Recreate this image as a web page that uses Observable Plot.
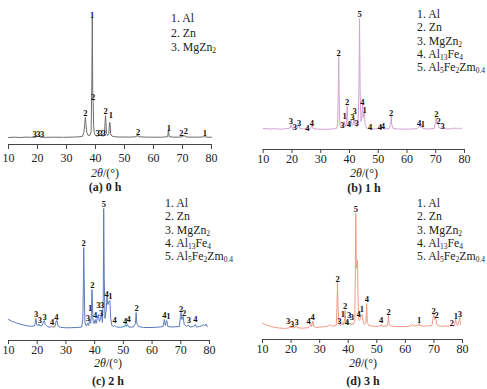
<!DOCTYPE html>
<html><head><meta charset="utf-8">
<script src="https://cdn.jsdelivr.net/npm/d3@7"></script>
<script src="https://cdn.jsdelivr.net/npm/@observablehq/plot@0.6"></script>
<style>
body{margin:0;background:#fff;}
#root{position:relative;width:487px;height:389px;overflow:hidden;font-family:"Liberation Serif","DejaVu Serif",serif;color:#222;}
.panel{position:absolute;}
.leg{position:absolute;font-size:11.8px;white-space:nowrap;}
.leg div{height:13.3px;line-height:13.3px;}
.leg sub{font-size:7.5px;vertical-align:-2px;line-height:0;}
.cap{position:absolute;transform:translateX(-50%);font-size:12px;line-height:14px;white-space:nowrap;}
.cap.b{font-weight:bold;}
</style></head>
<body><div id="root"></div>
<script>
const xTicks = [10,20,30,40,50,60,70,80];
const xTitle = "<i>2θ</i>/(°)";

// (a) 0 h
const aTheta = [10,12,14,16,18,19.5,19.8,20.1,20.5,20.9,23,26,29,32,34,35.5,36.0,36.3,36.5,36.7,37.0,37.5,38.0,38.5,38.75,38.9,39.05,39.2,39.35,39.6,40.0,40.5,41.0,41.3,41.6,41.9,42.3,42.8,43.1,43.3,43.45,43.6,43.8,44.2,44.6,44.85,45.0,45.2,45.6,46.5,48,52,54.2,54.5,54.8,57,60,63,64.9,65.15,65.4,67,69.8,70.15,70.5,70.8,71.2,74,77.3,77.6,77.9,80];
const aInt = [0,0.3,0,0.4,0.2,0.3,2,0.5,1.8,0.3,0.2,0.3,0.2,0.4,0.6,1.2,5,14,20,14,5,2,2,6,60,120,45,36,12,4,2,1.5,1.5,3,1.5,2.5,1.5,1.5,4,15,22,15,4,2,4,15,15,4,1.5,0.8,0.5,0.4,0.8,3.5,0.8,0.4,0.3,0.3,0.8,8,0.8,0.3,0.5,2.5,1,2,0.5,0.3,0.5,2,0.5,0.2];
const aLblTheta = [19.0,20.3,21.6,36.55,38.86,39.2,40.7,41.8,42.9,43.45,45.3,54.7,65.3,69.6,71.2,77.7];
const aLblInt = [3,3,3,24,122,40,4,4,4,26,22,5,9,4,6,4];
const aLblText = ["3","3","3","2","1","2","3","3","3","2","1","2","1","2","2","1"];
const aLegend = ["1. Al","2. Zn","3. MgZn<sub>2</sub>"];

// (b) 1 h
const bTheta = [10,12,14,16,18,19.4,19.7,20.0,20.4,20.8,21.2,21.8,22.3,22.7,24,25.2,25.5,25.8,26.5,26.9,27.3,29,32,34,35.5,35.9,36.1,36.25,36.4,36.6,37.2,37.6,38.0,38.3,38.6,38.9,39.1,39.2,39.35,39.6,39.9,40.3,40.6,40.9,41.3,41.6,41.9,42.2,42.5,43.0,43.3,43.5,43.7,44.0,44.3,44.55,44.8,45.0,45.2,45.4,45.8,46.5,47.2,47.8,49,50.7,51.1,51.5,52,53.8,54.3,54.5,54.7,55.2,57,60,62,63.5,64.2,64.5,64.8,65.2,65.6,67,69.5,69.9,70.15,70.4,70.8,71.1,71.8,72.3,72.8,74,75.5,76.5,77.2,78,78.6,79];
const bInt = [1,0.5,0.8,0.3,0.8,1.5,5,1.5,1,3,1,1.2,5,1.2,0.5,0.8,2,0.6,1,5,1,0.3,0.2,0.5,1,6,40,73,40,5,1.5,3.5,2,8,3,5,18,24,12,6,3,6,10,4,5,12,5,6,3,5,40,111,40,8,12,25,12,17,18,6,2,1,2,0.5,0.5,2,1,2.5,0.6,0.8,5,14,5,1,0.5,0.3,0.6,0.8,3,5,2,4,1,0.5,1,8,12,6,7,2,1,2.5,1,0.5,0.8,1.5,0.8,1.5,0.6,1.2];
const bLblTheta = [19.6,21.0,22.5,25.4,26.9,36.2,37.5,38.3,39.2,39.8,41.0,41.8,42.5,43.5,44.5,45.3,47.2,50.6,51.6,54.5,64.2,65.5,70.2,71.0,72.4];
const bLblInt = [8,2.3,6.3,1.7,6.3,76.7,4.7,13,27.3,5.3,12,18.5,6,115.7,27.3,19,2.3,2.3,3,16.7,6.7,5,15.7,8.7,3.3];
const bLblText = ["3","3","3","4","4","2","3","1","2","4","3","3","3","5","4","1","4","4","4","2","4","1","2","2","3"];
const fullLegend = ["1. Al","2. Zn","3. MgZn<sub>2</sub>","4. Al<sub>13</sub>Fe<sub>4</sub>","5. Al<sub>5</sub>Fe<sub>2</sub>Zm<sub>0.4</sub>"];

// (c) 2 h
const cTheta = [10,11,12,13,14,15,16,17,18,19,19.3,19.55,19.8,20.2,20.6,21.0,21.7,22.2,22.5,22.8,23.5,24.5,25.0,25.4,26.2,26.6,26.9,27.2,28,30,32,34,35.5,35.9,36.1,36.2,36.35,36.6,37.1,37.5,37.9,38.3,38.6,38.9,39.05,39.2,39.4,39.8,40.2,40.5,40.9,41.3,41.6,42.0,42.4,42.7,43.0,43.15,43.35,43.6,44.0,44.3,44.6,45.0,45.3,45.6,46.0,46.6,47.0,47.5,49,50.4,50.7,51.0,51.4,51.8,53.5,54.2,54.45,54.7,55.3,57,60,62,63.8,64.3,64.6,65.1,65.5,67,69.5,69.9,70.1,70.4,70.8,71.2,72,72.6,73.2,74.5,75,75.5,76.5,77.3,77.8,78.3,78.8,79.2];
const cInt = [9,7.5,6.3,5.2,4.4,3.7,3,2.5,2.2,2.5,5,10,4,2.5,4.5,2.5,3,7,8,4,2,1.2,2.5,1.2,2,7.5,8,3,1.2,0.7,0.8,1,1.5,10,50,81,50,6,2.5,5,3,10,5,15,39,30,8,5,9,5,10,14,7,9,15,6,30,120,50,10,18,32,24,27,28,10,3,2,3,1.5,1.2,2,4,2,4,1.5,1.5,5,16,5,2,1,1,1.3,2,9,3,8,2,1.5,2,12,16,9,12,4,2,3.5,1.5,2,4,1.5,2,2.5,4,2.5,4.5,2];
const cLblTheta = [19.6,20.9,22.6,25.2,26.7,36.2,37.6,38.4,39.2,40.2,41.3,42.6,42.3,43.2,44.2,45.5,47.0,50.6,51.8,54.6,64.3,65.7,70.1,71.2,72.8,75.1];
const cLblInt = [14.7,8,11.3,6.3,11.3,85.7,10.3,20.7,43,13.7,23,23,15.3,124.7,34.7,32,8,7.3,9,20.7,13,12.3,19.7,15.2,8,9];
const cLblText = ["3","3","3","4","4","2","3","1","2","4","3","3","3","5","4","1","4","4","4","2","4","1","2","2","3","4"];

// (d) 3 h
const dTheta = [10,11,12,13,14,16,18,19.3,19.6,19.9,20.3,20.7,21.4,21.8,22.2,24,26,26.6,26.9,27.2,27.6,28.0,29,30,32,33,33.6,34.2,35,35.8,36.05,36.25,36.45,36.8,37.3,37.6,37.9,38.1,38.4,38.75,38.9,39.1,39.5,39.8,40.1,40.4,40.7,41.0,41.4,41.8,42.3,42.5,42.65,42.85,43.05,43.25,43.45,43.7,44.0,44.3,44.6,44.85,45.1,45.6,46.2,46.45,46.7,47.2,48,50,51.2,51.5,51.8,53.6,53.9,54.1,54.3,54.8,57,60,62,62.5,63,64.5,64.8,65.1,67,69.3,69.7,69.95,70.3,70.65,71,72,74,75.5,76.3,77.2,77.6,77.9,78.3,78.8,79.05,79.3];
const dInt = [5.3,4,3,2,1.3,0.4,0.1,0.5,2.5,0.5,2.5,0.5,1,3,0.8,0.3,0.8,2,4.5,2,7.5,2,1,1.3,2,2.5,3.8,2.3,2.5,3,20,46,20,4,3,4.5,3.5,6,4,10,18,8,4.5,4,7,4,5.5,3.5,5,4,8,60,115,60,62,68,30,9,8,10,13,14,8,4,6,25,6,3,2.5,2,2.5,4,2.2,2.5,6,13,5,2.5,2,2,2.5,4,2.5,2.8,5,2.8,2.3,3,10,14.5,9,10,4,2.5,2.3,2.5,3,3,9.5,4,3,8,11,4];
const dLblTheta = [19.0,20.4,21.9,26.1,27.5,36.25,36.9,38.1,38.9,39.5,40.3,41.3,42.7,43.6,44.8,46.5,51.5,54.1,64.8,69.9,70.9,76.3,77.7,79.1];
const dLblInt = [7,4.7,6.3,7,11.3,49.7,7.5,14.5,22,6,13,11.3,119,14.7,19,29.7,8,16.3,8.7,17,13.5,5.7,12.3,14.7];
const dLblText = ["3","3","3","4","4","2","3","1","2","4","3","3","5","4","1","4","4","2","1","2","2","2","1","3"];

const root = document.getElementById("root");

function panel(cfg) {
  const line = cfg.theta.map((t, i) => ({t, v: cfg.inten[i]}));
  const labels = cfg.lt.map((t, i) => ({t, v: cfg.li[i], s: cfg.ls[i]}));
  const svg = Plot.plot({
    width: 245, height: 170,
    marginLeft: cfg.ml, marginRight: cfg.mr, marginTop: 10, marginBottom: cfg.mb,
    style: {fontFamily: '"Liberation Serif","DejaVu Serif",serif', fontSize: "12px", background: "transparent", color: "#222", overflow: "visible"},
    x: {domain: [10, 80]},
    y: {domain: cfg.yd, axis: null},
    marks: [
      Plot.ruleY([cfg.yd[0]], {stroke: "#444", strokeWidth: 1}),
      Plot.axisX({ticks: xTicks, tickSize: cfg.ts, tickPadding: cfg.tp, tickFormat: d => String(d), label: null, stroke: "#444"}),
      Plot.line(line, {x: "t", y: "v", stroke: cfg.color, strokeWidth: 1}),
      Plot.text(labels, {x: "t", y: "v", text: "s", fontWeight: "bold", fontSize: 8.5, fill: "#111"})
    ]
  });
  const wrap = document.createElement("div");
  wrap.className = "panel";
  wrap.style.left = cfg.left + "px";
  wrap.style.top = cfg.top + "px";
  wrap.appendChild(svg);
  root.appendChild(wrap);

  const leg = document.createElement("div");
  leg.className = "leg";
  leg.style.left = cfg.legX + "px";
  leg.style.top = cfg.legY + "px";
  cfg.legend.forEach(s => {
    const d = document.createElement("div");
    d.innerHTML = s;
    if (cfg.legH) { d.style.height = cfg.legH + "px"; d.style.lineHeight = cfg.legH + "px"; }
    leg.appendChild(d);
  });
  root.appendChild(leg);

  const t1 = document.createElement("div");
  t1.className = "cap";
  t1.style.left = cfg.capX + "px";
  t1.style.top = (cfg.titleY - 7) + "px";
  t1.innerHTML = xTitle;
  root.appendChild(t1);

  const t2 = document.createElement("div");
  t2.className = "cap b";
  t2.style.left = cfg.capX + "px";
  t2.style.top = (cfg.capY - 7) + "px";
  t2.textContent = cfg.caption;
  root.appendChild(t2);
}

panel({theta: aTheta, inten: aInt, lt: aLblTheta, li: aLblInt, ls: aLblText, color: "#6e6e6e",
  left: 0, top: 0, ml: 8, mr: 34, mb: 26, yd: [-7, 127], ts: 5, tp: 4,
  legend: aLegend, legX: 171, legY: 11, legH: 14.5, capX: 105, titleY: 173, capY: 187, caption: "(a) 0 h"});
panel({theta: bTheta, inten: bInt, lt: bLblTheta, li: bLblInt, ls: bLblText, color: "#d3a3d3",
  left: 242, top: 0, ml: 20.7, mr: 23, mb: 21, yd: [-20, 119], ts: 4, tp: 1,
  legend: fullLegend, legX: 417, legY: 8, capX: 364, titleY: 173, capY: 188, caption: "(b) 1 h"});
panel({theta: cTheta, inten: cInt, lt: cLblTheta, li: cLblInt, ls: cLblText, color: "#5a7bbd",
  left: 0, top: 190, ml: 8, mr: 36, mb: 20, yd: [-12, 128], ts: 4, tp: 1,
  legend: fullLegend, legX: 165, legY: 197, capX: 108, titleY: 363, capY: 381, caption: "(c) 2 h"});
panel({theta: dTheta, inten: dInt, lt: dLblTheta, li: dLblInt, ls: dLblText, color: "#ee9c88",
  left: 242, top: 190, ml: 20, mr: 25, mb: 21, yd: [-11, 128], ts: 4, tp: 1,
  legend: fullLegend, legX: 417, legY: 197, capX: 363, titleY: 363, capY: 381, caption: "(d) 3 h"});
</script>
</body></html>
